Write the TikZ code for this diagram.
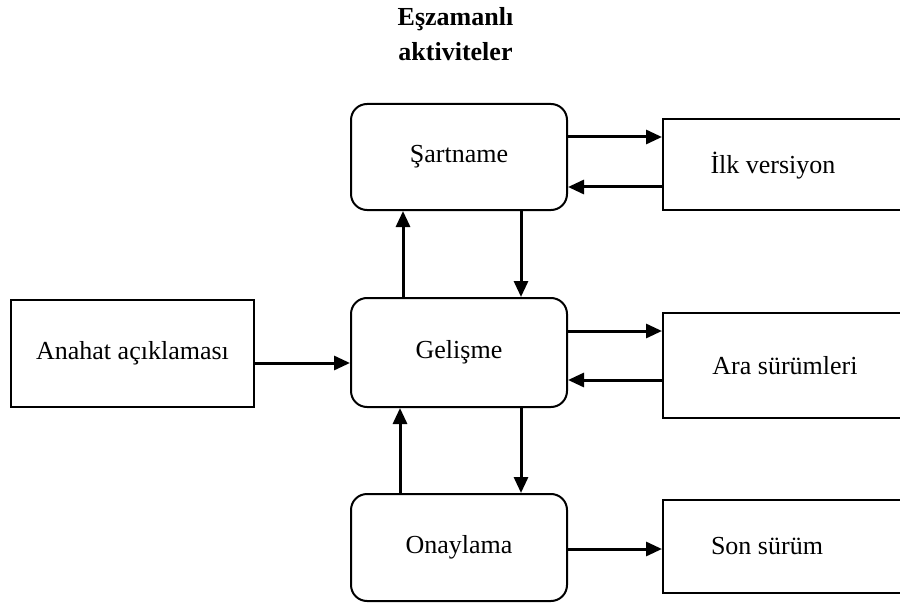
\documentclass[tikz,border=0pt]{standalone}
\usepackage{fontspec}
\setmainfont{Liberation Serif}
\usetikzlibrary{arrows.meta}
\begin{document}
\begin{tikzpicture}[x=1pt,y=-1pt,
  every node/.style={font=\fontsize{26}{35}\selectfont, inner sep=0pt},
  rbox/.style={draw, line width=2pt, rounded corners=16pt, minimum width=216pt},
  sbox/.style={draw, line width=2pt},
  arr/.style={line width=3pt, -{Triangle[length=16pt,width=14pt]}}]
\useasboundingbox (0,0) rectangle (900,607);
% title
\node[font=\fontsize{26}{35}\selectfont\bfseries, align=center] (title) at (455.5,34) {Eşzamanlı\\aktiviteler};
% central column
\node[rbox, minimum height=106pt] (sart) at (459,157) {Şartname};
\node[rbox, minimum height=109pt] (gel) at (459,352.5) {Gelişme};
\node[rbox, minimum height=107pt] (ona) at (459,547.5) {Onaylama};
% left box
\node[sbox, minimum width=243pt, minimum height=107pt] (anahat) at (132.5,353.5) {Anahat açıklaması};
% right boxes
\node[sbox, minimum width=247pt, minimum height=91pt] (ilk) at (786.5,164.5) {};
\node (ilkt) at (773,165.5) {İlk versiyon};
\node[sbox, minimum width=247pt, minimum height=105pt] (ara) at (786.5,365.5) {};
\node (arat) at (785,365.5) {Ara sürümleri};
\node[sbox, minimum width=247pt, minimum height=93pt] (son) at (786.5,546.5) {};
\node (sont) at (767,546.5) {Son sürüm};
% helper coordinates for connector positions
\coordinate (h1) at (0,137);
\coordinate (h2) at (0,187);
\coordinate (h3) at (0,331);
\coordinate (h4) at (0,380);
\coordinate (h5) at (0,363);
\coordinate (h6) at (0,549);
\coordinate (v1) at (403,0);
\coordinate (v2) at (521,0);
\coordinate (v3) at (400,0);
% horizontal connectors
\draw[arr] (sart.east |- h1) -- (ilk.west |- h1);
\draw[arr] (ilk.west |- h2) -- (sart.east |- h2);
\draw[arr] (gel.east |- h3) -- (ara.west |- h3);
\draw[arr] (ara.west |- h4) -- (gel.east |- h4);
\draw[arr] (anahat.east |- h5) -- (gel.west |- h5);
\draw[arr] (ona.east |- h6) -- (son.west |- h6);
% vertical connectors
\draw[arr] (gel.north -| v1) -- (sart.south -| v1);
\draw[arr] (sart.south -| v2) -- (gel.north -| v2);
\draw[arr] (ona.north -| v3) -- (gel.south -| v3);
\draw[arr] (gel.south -| v2) -- (ona.north -| v2);
\end{tikzpicture}
\end{document}
